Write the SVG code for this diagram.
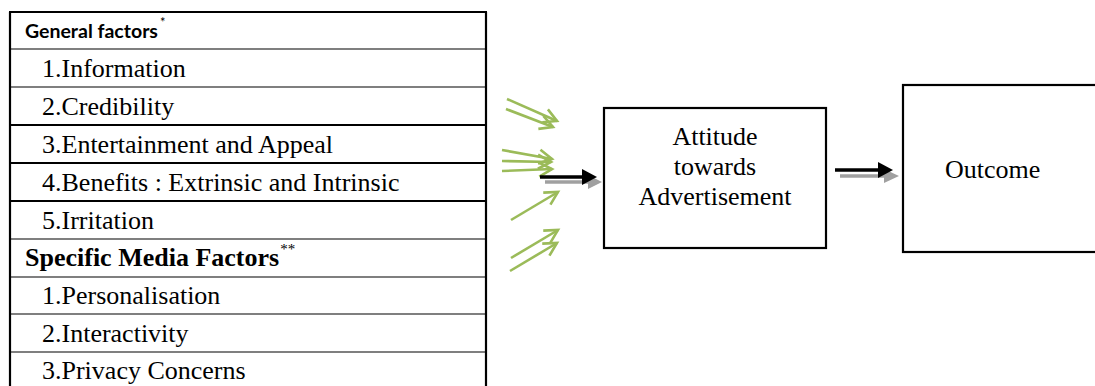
<svg xmlns="http://www.w3.org/2000/svg" width="1095" height="386" viewBox="0 0 1095 386">
<style>
.t{font-family:"Liberation Serif","Times New Roman",serif;font-size:26px;fill:#000}
.b{font-weight:bold}
.h{font-family:Lato,"Liberation Sans",sans-serif;font-size:19.5px;font-weight:bold;fill:#000}
.sup{font-size:13px;font-weight:normal}
.thin{stroke:#000;stroke-width:1.2}
.thick{stroke:#000;stroke-width:2.2}
.box{fill:#fff;stroke:#000;stroke-width:2.2}
.g{stroke:#9bbb59;stroke-width:2.6;fill:none;marker-end:url(#ga)}
.bk{stroke:#000;stroke-width:3.5}
.gr{stroke:#a0a0a0;stroke-width:3.5}
</style>
<defs>
<marker id="ga" markerUnits="userSpaceOnUse" markerWidth="18" markerHeight="18" refX="14" refY="9" orient="auto">
<path d="M1,2 L14,9 L1,16" fill="none" stroke="#9bbb59" stroke-width="2.6"/>
</marker>
</defs>
<rect width="1095" height="386" fill="#fff"/>
<g id="table">
<line class="thick" x1="10" y1="12" x2="10" y2="386"/>
<line class="thick" x1="486" y1="12" x2="486" y2="386"/>
<line class="thick" x1="9" y1="12" x2="487" y2="12"/>
<line class="thin" x1="10" y1="49" x2="486" y2="49"/>
<line class="thin" x1="10" y1="87" x2="486" y2="87"/>
<line class="thick" x1="10" y1="125" x2="486" y2="125"/>
<line class="thick" x1="10" y1="163" x2="486" y2="163"/>
<line class="thick" x1="10" y1="201" x2="486" y2="201"/>
<line class="thin" x1="10" y1="239" x2="486" y2="239"/>
<line class="thin" x1="10" y1="277" x2="486" y2="277"/>
<line class="thin" x1="10" y1="314" x2="486" y2="314"/>
<line class="thin" x1="10" y1="352" x2="486" y2="352"/>
<text class="h" x="25" y="38">General factors<tspan class="sup" dx="2" dy="-11">*</tspan></text>
<text class="t" x="42" y="77">1.Information</text>
<text class="t" x="42" y="115">2.Credibility</text>
<text class="t" x="42" y="153">3.Entertainment and Appeal</text>
<text class="t" x="42" y="191">4.Benefits : Extrinsic and Intrinsic</text>
<text class="t" x="42" y="229">5.Irritation</text>
<text class="t b" x="25" y="266">Specific Media Factors<tspan class="sup" style="font-size:15px" dx="1" dy="-12">**</tspan></text>
<text class="t" x="42" y="304">1.Personalisation</text>
<text class="t" x="42" y="342">2.Interactivity</text>
<text class="t" x="42" y="379">3.Privacy Concerns</text>
</g>
<g id="attitude">
<rect class="box" x="604" y="108" width="222" height="140"/>
<text class="t" x="715" y="145" text-anchor="middle">Attitude</text>
<text class="t" x="715" y="175" text-anchor="middle">towards</text>
<text class="t" x="715" y="205" text-anchor="middle">Advertisement</text>
</g>
<g id="outcome">
<rect class="box" x="903" y="85" width="210" height="167"/>
<text class="t" x="945" y="178">Outcome</text>
</g>
<g id="connectors">
<line class="g" x1="507" y1="99" x2="557" y2="121"/>
<line class="g" x1="506" y1="109" x2="553" y2="127"/>
<line class="g" x1="502" y1="150" x2="552" y2="159"/>
<line class="g" x1="502" y1="161" x2="551" y2="162"/>
<line class="g" x1="502" y1="171" x2="552" y2="169"/>
<line class="g" x1="511" y1="220" x2="558" y2="192"/>
<line class="g" x1="511" y1="258" x2="558" y2="230"/>
<line class="g" x1="510" y1="271" x2="557" y2="243"/>
<line class="gr" x1="545" y1="182" x2="590" y2="182"/>
<polygon points="588,175 602,182 588,189" fill="#a0a0a0"/>
<line class="bk" x1="540" y1="177" x2="584" y2="177"/>
<polygon points="582,169 597,177 582,185" fill="#000"/>
<line class="gr" x1="840" y1="176" x2="886" y2="176"/>
<polygon points="884,169 899,176 884,183" fill="#a0a0a0"/>
<line class="bk" x1="835" y1="170" x2="880" y2="170"/>
<polygon points="878,162 893,170 878,178" fill="#000"/>
</g>
</svg>
